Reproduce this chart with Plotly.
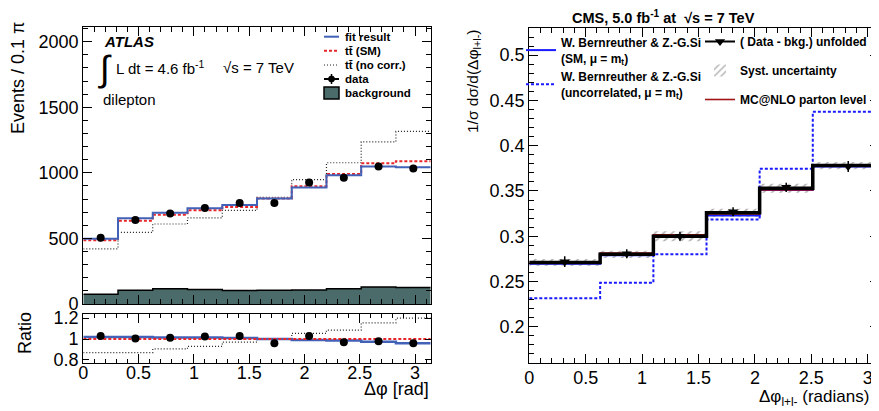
"""Delta-phi spin correlation plots: ATLAS (left, with ratio) and CMS (right)."""

import plotly.graph_objects as go

# ---- ATLAS panel data (10 bins of 0.1 pi) ----
atlas_edges = [0, 0.314, 0.628, 0.942, 1.257, 1.571, 1.885, 2.199, 2.513, 2.827, 3.1416]
fit_result = [497, 653, 696, 730, 755, 804, 888, 982, 1048, 1043]
tt_sm = [487, 635, 681, 714, 740, 804, 898, 992, 1074, 1089]
tt_nocorr = [421, 546, 610, 656, 714, 814, 949, 1077, 1237, 1316]
atlas_data = [505, 640, 691, 732, 770, 770, 926, 962, 1048, 1033]
atlas_data_err = [18, 20, 20, 22, 22, 22, 24, 25, 26, 26]
background = [74, 105, 117, 110, 102, 105, 107, 117, 130, 125]

ratio_data = [1.03, 1.006, 1.013, 1.025, 1.03, 0.96, 1.03, 0.97, 0.978, 0.96]
ratio_err = [0.03, 0.03, 0.03, 0.03, 0.03, 0.03, 0.03, 0.03, 0.03, 0.03]
ratio_fit = [1.02, 1.02, 1.015, 1.015, 1.01, 1.0, 0.99, 0.985, 0.975, 0.96]
ratio_sm = [1.0, 1.0, 1.0, 1.0, 1.0, 1.0, 1.0, 1.0, 1.0, 1.0]
ratio_nocorr = [0.87, 0.87, 0.905, 0.93, 0.97, 1.0, 1.055, 1.085, 1.155, 1.2]

# ---- CMS panel data ----
cms_edges = [0, 0.628, 1.100, 1.571, 2.042, 2.513, 3.1416]
cms_unfolded = [0.271, 0.280, 0.300, 0.326, 0.353, 0.378]
cms_points = [0.2719, 0.2807, 0.300, 0.327, 0.354, 0.377]
cms_err = [0.006, 0.005, 0.005, 0.005, 0.005, 0.006]
cms_syst = [0.004, 0.004, 0.0055, 0.0045, 0.005, 0.004]
bs_sm = [0.2696, 0.279, 0.300, 0.323, 0.351, 0.377]
bs_uncorr = [0.2315, 0.2485, 0.280, 0.3185, 0.3745, 0.4374]
mcnlo = [0.2715, 0.2815, 0.3015, 0.3245, 0.351, 0.378]

# window is 879x411; the page body keeps its default 8px margin
WIN_W, WIN_H, OFF = 879, 411, 8
W, H = WIN_W - OFF, WIN_H - OFF
FONT = "Liberation Sans, Arial, sans-serif"
BLUE_FIT = "#4262b8"
RED_SM = "#e8262a"
BKG = "#4a6b69"


def px_x(v):
    return (v - OFF) / W


def px_y(v):
    return 1 - (v - OFF) / H


def centers(edges):
    return [(a + b) / 2 for a, b in zip(edges[:-1], edges[1:])]


def widths(edges):
    return [b - a for a, b in zip(edges[:-1], edges[1:])]


def step(edges, vals, xa, ya, color, width=1.5, dash="solid", name=None,
         legend="legend", rank=None, **kw):
    return go.Scatter(
        x=edges, y=list(vals) + [vals[-1]], mode="lines", line_shape="hv",
        line=dict(color=color, width=width, dash=dash),
        xaxis=xa, yaxis=ya, name=name, showlegend=name is not None,
        legend=legend, legendrank=rank, legendgroup=name, **kw,
    )


fig = go.Figure()

# ATLAS main
fig.add_trace(step(atlas_edges, background, "x", "y", "black", 1.5,
                   fill="tozeroy", fillcolor=BKG))
fig.add_trace(step(atlas_edges, tt_nocorr, "x", "y", "#222222", 1.2, "1px,2px"))
fig.add_trace(step(atlas_edges, tt_sm, "x", "y", RED_SM, 2, "3px,2px"))
fig.add_trace(step(atlas_edges, fit_result, "x", "y", BLUE_FIT, 2))
fig.add_trace(go.Scatter(
    x=centers(atlas_edges), y=atlas_data, mode="markers", showlegend=False,
    marker=dict(color="black", size=8, symbol="circle"),
    error_y=dict(type="data", array=atlas_data_err, color="black",
                 thickness=1.5, width=0),
    xaxis="x", yaxis="y",
))

# ATLAS ratio
fig.add_trace(step(atlas_edges, ratio_nocorr, "x2", "y2", "#222222", 1.2, "1px,2px"))
fig.add_trace(step(atlas_edges, ratio_fit, "x2", "y2", BLUE_FIT, 2.5))
fig.add_trace(step(atlas_edges, ratio_sm, "x2", "y2", RED_SM, 2, "3px,2px"))
fig.add_trace(go.Scatter(
    x=centers(atlas_edges), y=ratio_data, mode="markers", showlegend=False,
    marker=dict(color="black", size=8),
    error_y=dict(type="data", array=ratio_err, color="black",
                 thickness=1.5, width=0),
    xaxis="x2", yaxis="y2",
))

# CMS
fig.add_trace(go.Bar(
    x=centers(cms_edges), width=widths(cms_edges),
    base=[v - s for v, s in zip(cms_unfolded, cms_syst)],
    y=[2 * s for s in cms_syst],
    marker=dict(color="rgba(0,0,0,0)", line=dict(width=0),
                pattern=dict(shape="/", fgcolor="#666666",
                             bgcolor="rgba(0,0,0,0)", size=6, solidity=0.3)),
    name="Syst. uncertainty", legend="legend3", legendrank=2,
    legendgroup="syst", xaxis="x3", yaxis="y3",
))
fig.add_trace(step(cms_edges, bs_uncorr, "x3", "y3", "#1a1aff", 2, "3px,2px",
                   name="W. Bernreuther & Z.-G.Si<br>(uncorrelated, \u03bc = m<sub>t</sub>)",
                   legend="legend2", rank=2))
fig.add_trace(step(cms_edges, bs_sm, "x3", "y3", "#1a1aff", 2,
                   name="W. Bernreuther & Z.-G.Si<br>(SM, \u03bc = m<sub>t</sub>)",
                   legend="legend2", rank=1))
fig.add_trace(step(cms_edges, mcnlo, "x3", "y3", "#a01515", 1.6,
                   name="MC@NLO parton level", legend="legend3", rank=3))
fig.add_trace(step(cms_edges, cms_unfolded, "x3", "y3", "black", 3.5))
fig.add_trace(go.Scatter(
    x=centers(cms_edges), y=cms_points, mode="markers", showlegend=False,
    marker=dict(color="black", size=9, symbol="triangle-down"),
    error_y=dict(type="data", array=cms_err, color="black",
                 thickness=1.5, width=0),
    xaxis="x3", yaxis="y3",
))
# legend key for the unfolded data (line + marker)
fig.add_trace(go.Scatter(
    x=[None], y=[None], mode="lines+markers", name="( Data - bkg.) unfolded",
    line=dict(color="black", width=2),
    marker=dict(color="black", size=9, symbol="triangle-down"),
    xaxis="x3", yaxis="y3", legend="legend3", legendrank=1, legendgroup="data",
))

axis_common = dict(
    showline=True, linecolor="black", linewidth=1.2, mirror="ticks",
    ticks="inside", tickcolor="black", ticklen=9, tickwidth=1,
    showgrid=False, zeroline=False, automargin=False,
    tickfont=dict(family=FONT, size=18, color="black"),
)

left_x = [px_x(83.3), px_x(430.7)]
legend_common = dict(xanchor="left", yanchor="top", bgcolor="rgba(0,0,0,0)",
                     itemwidth=30, tracegroupgap=0)
fig.update_layout(
    width=W, height=H,
    margin=dict(l=0, r=0, t=0, b=0, autoexpand=False),
    paper_bgcolor="white", plot_bgcolor="white",
    font=dict(family=FONT, color="black"),
    barmode="overlay",
    xaxis=dict(axis_common, domain=left_x, range=[0, 3.1416], anchor="y",
               showticklabels=False, dtick=0.5,
               minor=dict(ticks="inside", dtick=0.1, ticklen=5,
                          tickcolor="black")),
    yaxis=dict(axis_common, domain=[px_y(304), px_y(27.3)], range=[0, 2110],
               anchor="x", dtick=500,
               minor=dict(ticks="inside", dtick=100, ticklen=5,
                          tickcolor="black")),
    xaxis2=dict(axis_common, domain=left_x, range=[0, 3.1416], anchor="y2",
                dtick=0.5, ticklabelstandoff=-7,
                minor=dict(ticks="inside", dtick=0.1, ticklen=4,
                           tickcolor="black")),
    yaxis2=dict(axis_common, domain=[px_y(363), px_y(314)],
                range=[0.77, 1.24], anchor="x2",
                tickvals=[0.8, 1, 1.2], ticktext=["0.8", "1", "1.2"],
                ticklen=6),
    xaxis3=dict(axis_common, domain=[px_x(529.3), 1.0], range=[0, 3.10],
                anchor="y3", dtick=0.5, ticklabelstandoff=-2,
                minor=dict(ticks="inside", dtick=0.1, ticklen=5,
                           tickcolor="black")),
    yaxis3=dict(axis_common, domain=[px_y(363), px_y(28)],
                range=[0.16, 0.53], anchor="x3", dtick=0.05,
                tickformat=".2~f",
                minor=dict(ticks="inside", dtick=0.01, ticklen=5,
                           tickcolor="black")),
    legend2=dict(legend_common, x=px_x(521), y=px_y(28),
                 font=dict(family=FONT, size=12, weight="bold")),
    legend3=dict(legend_common, x=px_x(700), y=px_y(27), tracegroupgap=10,
                 font=dict(family=FONT, size=12, weight="bold")),
)

# ATLAS legend, drawn by hand to get ROOT's tight row spacing
key_x0, key_x1, key_text = 324, 339, 343
rows = [36.7, 50.7, 65.0, 79.0, 93.0]
key_mid = (key_x0 + key_x1) / 2
shapes = [
    dict(type="line", x0=key_x0, x1=key_x1, y0=rows[0], y1=rows[0],
         line=dict(color=BLUE_FIT, width=2)),
    dict(type="line", x0=key_x0, x1=key_x1, y0=rows[1], y1=rows[1],
         line=dict(color=RED_SM, width=2, dash="3px,2px")),
    dict(type="line", x0=key_x0, x1=key_x1, y0=rows[2], y1=rows[2],
         line=dict(color="#222222", width=1.2, dash="1px,2px")),
    dict(type="line", x0=key_x0, x1=key_x1, y0=rows[3], y1=rows[3],
         line=dict(color="black", width=2)),
    dict(type="line", x0=key_mid, x1=key_mid, y0=rows[3] - 5, y1=rows[3] + 5,
         line=dict(color="black", width=1.5)),
    dict(type="circle", x0=key_mid - 3, x1=key_mid + 3,
         y0=rows[3] - 3, y1=rows[3] + 3, fillcolor="black",
         line=dict(color="black", width=1)),
    dict(type="rect", x0=key_x0, x1=key_x1, y0=rows[4] - 6, y1=rows[4] + 6,
         fillcolor=BKG, line=dict(color="black", width=1.5)),
]
fig.update_layout(shapes=[
    dict(s, xref="paper", yref="paper", x0=px_x(s["x0"]), x1=px_x(s["x1"]),
         y0=px_y(s["y0"]), y1=px_y(s["y1"]))
    for s in shapes
])

legend_labels = ["fit result", "tt\u0304 (SM)", "tt\u0304 (no corr.)", "data",
                 "background"]

annotations = [
    dict(x=px_x(key_text), y=px_y(r), text=f"<b>{t}</b>", size=11.5,
         xanchor="left")
    for t, r in zip(legend_labels, rows)
] + [
    dict(x=px_x(102), y=px_y(41), text="<b><i>ATLAS</i></b>", size=15,
         xanchor="left"),
    dict(x=px_x(96), y=px_y(69), text="\u222b", size=36, xanchor="left"),
    dict(x=px_x(114), y=px_y(68), text="L dt = 4.6 fb<sup>-1</sup>", size=15,
         xanchor="left"),
    dict(x=px_x(221), y=px_y(68), text="\u221as = 7 TeV", size=15,
         xanchor="left"),
    dict(x=px_x(101), y=px_y(99), text="dilepton", size=15, xanchor="left"),
    dict(x=px_x(18), y=px_y(78), text="Events / 0.1 \u03c0", size=18,
         angle=-90),
    dict(x=px_x(25), y=px_y(333), text="Ratio", size=18, angle=-90),
    dict(x=px_x(431), y=px_y(389), text="\u0394\u03c6 [rad]", size=18,
         xanchor="right"),
    dict(x=px_x(663), y=px_y(17.5),
         text="<b>CMS, 5.0 fb<sup>-1</sup> at  \u221as = 7 TeV</b>", size=14.5),
    dict(x=px_x(473), y=px_y(81),
         text="1/\u03c3 d\u03c3/d(\u0394\u03c6<sub>l+l-</sub>)", size=15.5,
         angle=-90),
    dict(x=px_x(871), y=px_y(398),
         text="\u0394\u03c6<sub>l+l-</sub> (radians)", size=17,
         xanchor="right"),
]
fig.update_layout(annotations=[
    dict(xref="paper", yref="paper", x=a["x"], y=a["y"], text=a["text"],
         showarrow=False, textangle=a.get("angle", 0),
         xanchor=a.get("xanchor", "center"), yanchor="middle",
         font=dict(family=FONT, size=a["size"], color="black"))
    for a in annotations
])

fig.write_html("out.html")
